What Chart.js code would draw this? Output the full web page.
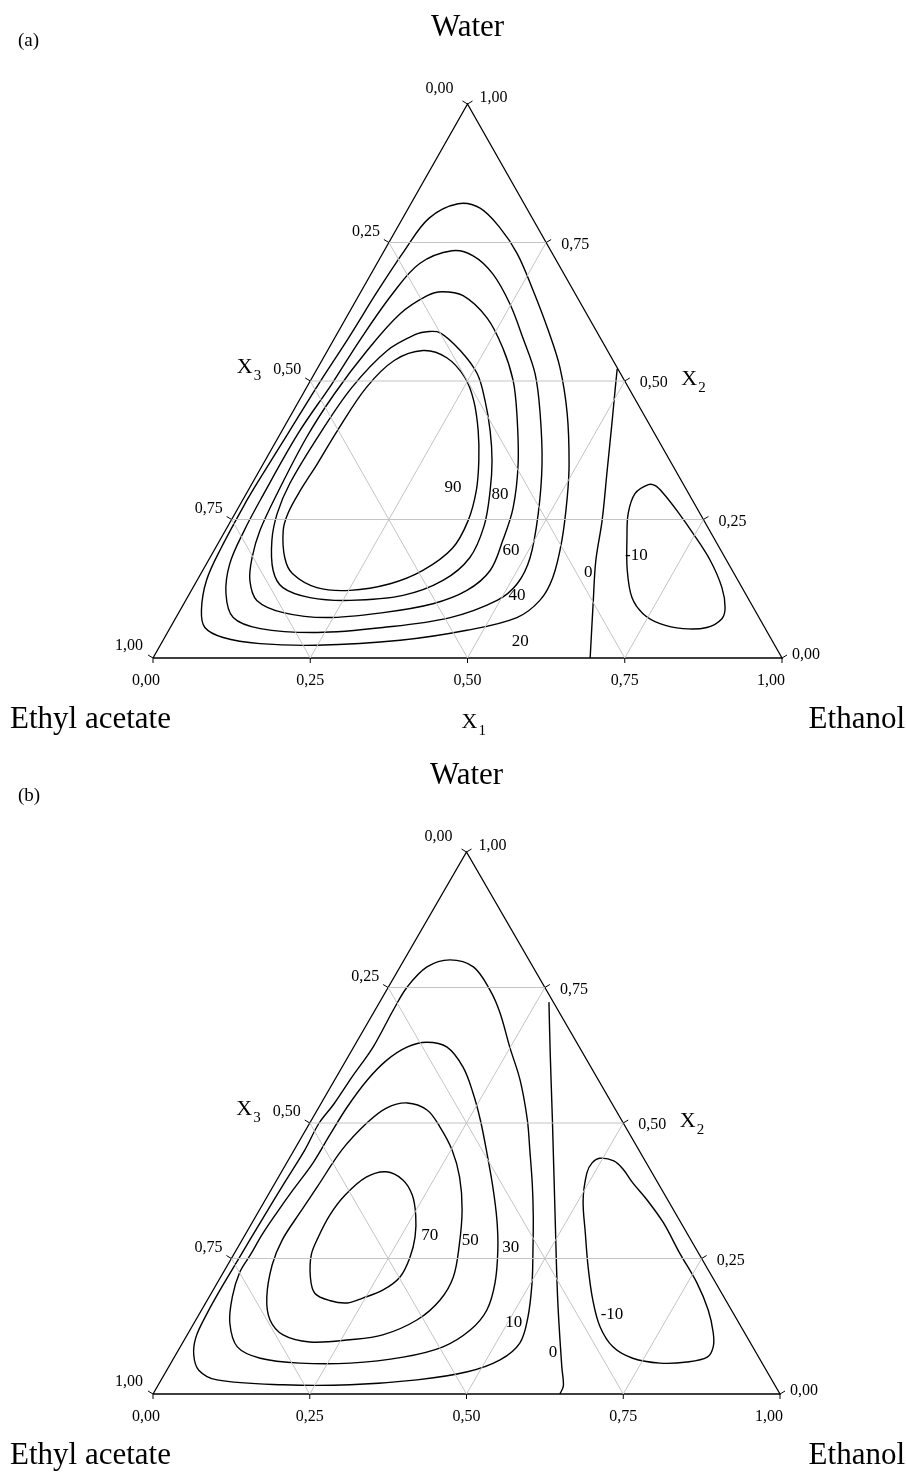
<!DOCTYPE html>
<html><head><meta charset="utf-8">
<script src="https://cdn.jsdelivr.net/npm/chart.js@4.4.0/dist/chart.umd.min.js"></script>
<style>
html,body{margin:0;padding:0;background:#fff;}
#wrap{position:relative;width:906px;height:1472px;overflow:hidden;}
.pane{position:absolute;left:0;width:906px;height:736px;}
</style></head><body>
<div id="wrap">
<div class="pane" style="top:0"><canvas id="ca" width="906" height="736"></canvas></div>
<div class="pane" style="top:736px"><canvas id="cb" width="906" height="736"></canvas></div>
</div>
<script>
// ---------- axis ticks ----------
const TICK_VALUES = [0, 0.25, 0.5, 0.75, 1];
const TICK_TEXT = ['0,00', '0,25', '0,50', '0,75', '1,00'];
const GRID_VALUES = [0.25, 0.5, 0.75];

// ---------- panel (a): contours as [x1 (ethanol), x2 (water)] ----------
const A_C20 = [[0.075,0.820],[0.114,0.812],[0.164,0.776],[0.214,0.730],[0.273,0.663],[0.333,0.591],[0.385,0.524],[0.438,0.441],[0.486,0.351],[0.514,0.289],[0.544,0.212],[0.563,0.145],[0.563,0.104],[0.542,0.073],[0.474,0.050],[0.377,0.032],[0.249,0.023],[0.157,0.026],[0.093,0.037],[0.055,0.055],[0.034,0.086],[0.015,0.140],[0.009,0.199],[0.007,0.279],[0.008,0.320],[0.012,0.405],[0.016,0.495],[0.022,0.578],[0.026,0.663],[0.032,0.735],[0.042,0.794]];
const A_C40 = [[0.108,0.735],[0.146,0.726],[0.194,0.693],[0.248,0.639],[0.299,0.578],[0.351,0.513],[0.395,0.441],[0.443,0.351],[0.482,0.261],[0.509,0.181],[0.512,0.134],[0.495,0.104],[0.436,0.073],[0.338,0.055],[0.238,0.046],[0.144,0.053],[0.091,0.073],[0.058,0.116],[0.037,0.170],[0.030,0.230],[0.028,0.289],[0.028,0.405],[0.037,0.495],[0.042,0.573],[0.052,0.657],[0.068,0.712]];
const A_C60 = [[0.129,0.661],[0.166,0.654],[0.224,0.614],[0.276,0.560],[0.322,0.501],[0.358,0.441],[0.405,0.351],[0.437,0.271],[0.450,0.212],[0.457,0.158],[0.438,0.122],[0.396,0.098],[0.325,0.082],[0.240,0.073],[0.166,0.082],[0.113,0.104],[0.084,0.140],[0.067,0.181],[0.055,0.230],[0.049,0.297],[0.045,0.398],[0.050,0.477],[0.063,0.555],[0.082,0.621],[0.109,0.654]];
const A_C80 = [[0.141,0.589],[0.163,0.587],[0.211,0.555],[0.259,0.513],[0.296,0.464],[0.331,0.410],[0.361,0.356],[0.385,0.302],[0.407,0.239],[0.413,0.181],[0.391,0.140],[0.341,0.113],[0.261,0.104],[0.195,0.109],[0.143,0.127],[0.112,0.158],[0.083,0.212],[0.067,0.261],[0.060,0.315],[0.063,0.405],[0.072,0.488],[0.095,0.555],[0.127,0.585]];
const A_C90 = [[0.152,0.555],[0.196,0.542],[0.243,0.506],[0.278,0.464],[0.312,0.410],[0.340,0.356],[0.363,0.302],[0.377,0.248],[0.377,0.198],[0.350,0.158],[0.310,0.134],[0.252,0.122],[0.197,0.127],[0.146,0.152],[0.119,0.181],[0.092,0.230],[0.084,0.261],[0.083,0.302],[0.086,0.351],[0.088,0.410],[0.095,0.488],[0.115,0.537]];
const A_C0 = [[0.477,0.522],[0.491,0.488],[0.516,0.428],[0.553,0.338],[0.590,0.248],[0.616,0.176],[0.648,0.104],[0.695,0.000]];
const A_CM10 = [[0.631,0.313],[0.643,0.311],[0.663,0.297],[0.700,0.266],[0.746,0.225],[0.798,0.176],[0.841,0.127],[0.864,0.091],[0.869,0.071],[0.853,0.055],[0.816,0.053],[0.775,0.062],[0.739,0.080],[0.707,0.109],[0.675,0.158],[0.645,0.217],[0.625,0.261],[0.618,0.297]];
const A_LEVELS = ['90', '80', '60', '40', '20', '0', '-10'];
const A_LEVEL_AT = [[0.323,0.308],[0.404,0.295],[0.472,0.194],[0.522,0.113],[0.569,0.030],[0.615,0.154],[0.676,0.185]];

// ---------- panel (b) ----------
const B_C10 = [[0.073,0.801],[0.117,0.788],[0.165,0.745],[0.202,0.703],[0.249,0.640],[0.296,0.579],[0.344,0.506],[0.376,0.450],[0.412,0.386],[0.443,0.327],[0.473,0.266],[0.502,0.205],[0.527,0.142],[0.538,0.094],[0.522,0.063],[0.481,0.041],[0.408,0.026],[0.306,0.017],[0.199,0.017],[0.089,0.026],[0.051,0.044],[0.029,0.072],[0.016,0.105],[0.012,0.146],[0.011,0.188],[0.012,0.251],[0.013,0.321],[0.015,0.395],[0.017,0.450],[0.015,0.500],[0.021,0.535],[0.025,0.585],[0.031,0.640],[0.029,0.709],[0.030,0.751],[0.043,0.788]];
const B_C30 = [[0.112,0.649],[0.149,0.640],[0.193,0.603],[0.233,0.555],[0.269,0.506],[0.310,0.445],[0.351,0.382],[0.388,0.321],[0.417,0.266],[0.443,0.205],[0.455,0.155],[0.447,0.118],[0.419,0.087],[0.365,0.068],[0.286,0.057],[0.206,0.057],[0.138,0.066],[0.091,0.087],[0.057,0.131],[0.037,0.179],[0.026,0.225],[0.027,0.257],[0.027,0.293],[0.030,0.332],[0.035,0.376],[0.042,0.426],[0.043,0.478],[0.045,0.530],[0.052,0.579],[0.065,0.616],[0.085,0.640]];
const B_C50 = [[0.137,0.537],[0.175,0.524],[0.211,0.493],[0.252,0.450],[0.289,0.400],[0.323,0.340],[0.351,0.275],[0.371,0.216],[0.371,0.173],[0.353,0.137],[0.312,0.109],[0.264,0.100],[0.202,0.096],[0.153,0.109],[0.118,0.137],[0.092,0.179],[0.071,0.238],[0.064,0.284],[0.067,0.334],[0.071,0.384],[0.076,0.450],[0.091,0.500],[0.109,0.528]];
const B_C70 = [[0.167,0.410],[0.201,0.395],[0.230,0.367],[0.254,0.330],[0.273,0.290],[0.284,0.251],[0.286,0.216],[0.271,0.192],[0.246,0.177],[0.226,0.168],[0.197,0.172],[0.165,0.186],[0.143,0.216],[0.124,0.257],[0.119,0.288],[0.117,0.330],[0.123,0.367],[0.140,0.400]];
const B_C0 = [[0.270,0.723],[0.319,0.629],[0.384,0.506],[0.481,0.321],[0.559,0.173],[0.627,0.050],[0.647,0.015],[0.649,0.000]];
const B_CM10 = [[0.495,0.435],[0.520,0.430],[0.542,0.415],[0.571,0.389],[0.609,0.358],[0.656,0.316],[0.710,0.260],[0.765,0.205],[0.808,0.155],[0.837,0.113],[0.850,0.087],[0.850,0.068],[0.822,0.059],[0.780,0.057],[0.732,0.066],[0.690,0.087],[0.651,0.124],[0.615,0.173],[0.577,0.234],[0.541,0.297],[0.507,0.358],[0.488,0.408],[0.487,0.426]];
const B_LEVELS = ['70', '50', '30', '10', '0', '-10'];
const B_LEVEL_AT = [[0.295,0.293],[0.364,0.284],[0.435,0.271],[0.510,0.131],[0.600,0.076],[0.659,0.146]];

// ---------- rendering ----------
const FONT = '"Liberation Serif", "Times New Roman", serif';
const HIDDEN = 'rgba(0,0,0,0)';
function cart(p) { return { x: p[0] + p[1] / 2, y: p[1] }; }

function lineDs(pts, closed, color, width, tension) {
  let data = pts.map(cart);
  const ds = { showLine: true, borderColor: color, borderWidth: width,
               pointRadius: 0, pointHoverRadius: 0, tension: tension, fill: false };
  if (closed) {
    // wrap with neighbours so the spline is smooth at the seam; hide the helper segments
    data = [cart(pts[pts.length - 1])].concat(data, [cart(pts[0]), cart(pts[1])]);
    const n = data.length;
    ds.segment = { borderColor: c => (c.p0DataIndex === 0 || c.p1DataIndex === n - 1) ? HIDDEN : color };
  }
  ds.data = data;
  return ds;
}

function txt(ctx, s, x, y, size, align) {
  ctx.font = size + 'px ' + FONT;
  ctx.textAlign = align || 'left';
  ctx.textBaseline = 'alphabetic';
  ctx.fillStyle = '#000';
  ctx.fillText(s, x, y);
  return ctx.measureText(s).width;
}

const ternaryText = {
  id: 'ternaryText',
  afterDatasetsDraw(chart, args, o) {
    const ctx = chart.ctx, sx = chart.scales.x, sy = chart.scales.y;
    const P = (x1, x2) => [sx.getPixelForValue(x1 + x2 / 2), sy.getPixelForValue(x2)];
    ctx.save();
    // tick marks
    ctx.strokeStyle = '#000'; ctx.lineWidth = 1;
    TICK_VALUES.forEach(t => {
      const b = P(t, 0), r = P(1 - t, t), l = P(0, 1 - t);
      ctx.beginPath();
      ctx.moveTo(b[0], b[1]); ctx.lineTo(b[0], b[1] + 5);
      ctx.moveTo(r[0], r[1]); ctx.lineTo(r[0] + 5, r[1] - 3);
      ctx.moveTo(l[0], l[1]); ctx.lineTo(l[0] - 5, l[1] - 3);
      ctx.stroke();
    });
    // tick labels
    TICK_VALUES.forEach((t, i) => {
      const s = TICK_TEXT[i];
      const b = P(t, 0);
      let bx = b[0]; if (t === 0) bx -= 7; if (t === 1) bx -= 11;
      txt(ctx, s, bx, b[1] + 27, 16, 'center');
      const r = P(1 - t, t);
      if (t === 0) txt(ctx, s, r[0] + 10, r[1] + 1, 16, 'left');
      else if (t === 1) txt(ctx, s, r[0] + 12, r[1] - 2, 16, 'left');
      else txt(ctx, s, r[0] + 15, r[1] + 6, 16, 'left');
      const l = P(0, 1 - t);
      if (t === 0) txt(ctx, s, l[0] - 14, l[1] - 11, 16, 'right');
      else if (t === 1) txt(ctx, s, l[0] - 10, l[1] - 8, 16, 'right');
      else txt(ctx, s, l[0] - 9, l[1] - 7, 16, 'right');
    });
    // axis names
    const m3 = P(0, 0.5), m2 = P(0.5, 0.5), bl = P(0, 0), br = P(1, 0), top = P(0, 1), bm = P(0.5, 0);
    let w = txt(ctx, 'X', m3[0] - 73.5, m3[1] - 8, 22, 'left');
    txt(ctx, '3', m3[0] - 73.5 + w + 1, m3[1] - 1, 15, 'left');
    w = txt(ctx, 'X', m2[0] + 56.5, m2[1] + 4, 22, 'left');
    txt(ctx, '2', m2[0] + 56.5 + w + 1, m2[1] + 11, 15, 'left');
    if (o.showX1) {
      w = txt(ctx, 'X', bm[0] - 6, bm[1] + 70, 22, 'left');
      txt(ctx, '1', bm[0] - 6 + w + 1, bm[1] + 77, 15, 'left');
    }
    // component names
    txt(ctx, 'Water', top[0], top[1] - 68, 31, 'center');
    txt(ctx, 'Ethyl acetate', 10, bl[1] + 70, 31, 'left');
    txt(ctx, 'Ethanol', 905, br[1] + 70, 31, 'right');
    txt(ctx, o.panel, 18, o.panelY, 19, 'left');
    // contour level labels
    o.levels.forEach((s, i) => {
      const p = P(o.levelAt[i][0], o.levelAt[i][1]);
      ctx.font = '17px ' + FONT; ctx.textAlign = 'center'; ctx.textBaseline = 'middle';
      ctx.fillText(s, p[0], p[1]);
    });
    ctx.restore();
  }
};

function makeChart(id, L, contours, textOpts) {
  const CW = 906, CH = 736;
  const W = L.right - L.left, H = L.bottom - L.top;
  const datasets = [];
  GRID_VALUES.forEach(k => {
    datasets.push(lineDs([[0, k], [1 - k, k]], false, '#c4c4c4', 1, 0));
    datasets.push(lineDs([[k, 0], [k, 1 - k]], false, '#c4c4c4', 1, 0));
    datasets.push(lineDs([[1 - k, 0], [0, 1 - k]], false, '#c4c4c4', 1, 0));
  });
  datasets.push(lineDs([[0, 0], [1, 0], [0, 1], [0, 0]], false, '#000', 1.3, 0));
  contours.forEach(c => datasets.push(lineDs(c.pts, c.closed, '#000', 1.4, 0.35)));
  return new Chart(document.getElementById(id), {
    type: 'scatter',
    data: { datasets },
    options: {
      responsive: false, animation: false, devicePixelRatio: 1, events: [],
      layout: { padding: 0 },
      scales: {
        x: { type: 'linear', display: false, min: -L.left / W, max: (CW - L.left) / W },
        y: { type: 'linear', display: false, min: (L.bottom - CH) / H, max: L.bottom / H }
      },
      plugins: { legend: { display: false }, tooltip: { enabled: false }, ternaryText: textOpts }
    },
    plugins: [ternaryText]
  });
}

makeChart('ca', { left: 153, right: 782, top: 104, bottom: 658 }, [
  { pts: A_C20, closed: true }, { pts: A_C40, closed: true }, { pts: A_C60, closed: true },
  { pts: A_C80, closed: true }, { pts: A_C90, closed: true },
  { pts: A_C0, closed: false }, { pts: A_CM10, closed: true }
], { panel: '(a)', panelY: 46, showX1: true, levels: A_LEVELS, levelAt: A_LEVEL_AT });

makeChart('cb', { left: 153, right: 780, top: 116, bottom: 658 }, [
  { pts: B_C10, closed: true }, { pts: B_C30, closed: true }, { pts: B_C50, closed: true },
  { pts: B_C70, closed: true }, { pts: B_C0, closed: false }, { pts: B_CM10, closed: true }
], { panel: '(b)', panelY: 65, showX1: false, levels: B_LEVELS, levelAt: B_LEVEL_AT });
</script>
</body></html>
